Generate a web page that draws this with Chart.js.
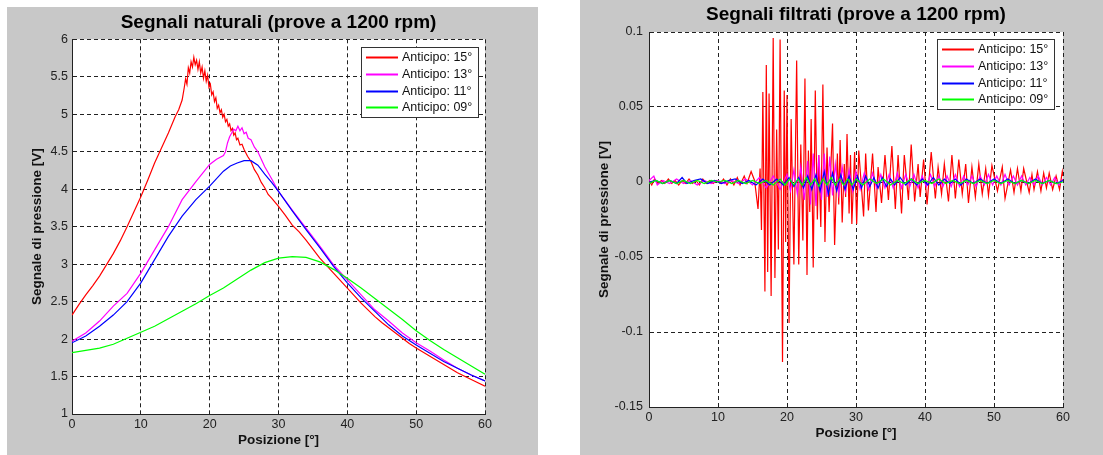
<!DOCTYPE html>
<html>
<head>
<meta charset="utf-8">
<script src="https://cdn.jsdelivr.net/npm/chart.js@4.4.0/dist/chart.umd.min.js"></script>
<style>
  body { margin: 0; background: #fff; width: 1103px; height: 455px; position: relative; overflow: hidden; }
  .pannello { position: absolute; background: #c8c8c8; }
  canvas { display: block; }
</style>
</head>
<body>
<div class="pannello" style="left:7px;top:7px;width:531px;height:448px"><canvas id="graficoNaturali" width="531" height="448"></canvas></div>
<div class="pannello" style="left:580px;top:0;width:523px;height:455px"><canvas id="graficoFiltrati" width="523" height="455"></canvas></div>
<script>
// etichette comuni
const etichette = ['Anticipo: 15°', 'Anticipo: 13°', 'Anticipo: 11°', 'Anticipo: 09°'];
const colori = ['#ff0000', '#ff00ff', '#0000ff', '#00ff00'];
const tickNaturali = ['1', '1.5', '2', '2.5', '3', '3.5', '4', '4.5', '5', '5.5', '6'];
const tickFiltrati = ['-0.15', '-0.1', '-0.05', '0', '0.05', '0.1'];

// --- segnali naturali [V] ---
const posNat15 = [0, 1, 2, 3, 4, 5, 6, 7, 8, 9,
  10, 11, 12, 13, 14, 15, 15.5, 16, 16.3, 16.5,
  16.7, 16.9, 17.1, 17.3, 17.5, 17.7, 17.9, 18.1, 18.3, 18.5,
  18.7, 18.9, 19.1, 19.3, 19.5, 19.7, 19.9, 20.1, 20.3, 20.5,
  20.7, 20.9, 21.1, 21.3, 21.5, 21.7, 21.9, 22.1, 22.3, 22.5,
  22.7, 22.9, 23.1, 23.3, 23.5, 23.7, 23.9, 24.1, 24.4, 24.7,
  25, 25.5, 26, 26.5, 27, 27.5, 28, 28.5, 29, 30,
  31, 32, 33, 34, 35, 36, 37, 38, 39, 40,
  41, 42, 43, 44, 45, 46, 47, 48, 49, 50,
  52, 54, 56, 58, 60];
const valNat15 = [2.32, 2.46, 2.59, 2.71, 2.84, 2.99, 3.14, 3.31, 3.50, 3.70,
  3.90, 4.12, 4.35, 4.55, 4.75, 4.97, 5.06, 5.19, 5.35, 5.47,
  5.40, 5.62, 5.55, 5.70, 5.63, 5.76, 5.66, 5.72, 5.60, 5.70,
  5.55, 5.63, 5.48, 5.58, 5.44, 5.52, 5.36, 5.40, 5.26, 5.30,
  5.17, 5.22, 5.08, 5.12, 5.02, 5.06, 4.96, 5.00, 4.90, 4.93,
  4.84, 4.87, 4.78, 4.81, 4.72, 4.75, 4.66, 4.68, 4.59, 4.60,
  4.53, 4.44, 4.37, 4.26, 4.19, 4.09, 4.02, 3.93, 3.88, 3.77,
  3.65, 3.52, 3.43, 3.32, 3.20, 3.08, 2.98, 2.88, 2.78, 2.68,
  2.58, 2.48, 2.39, 2.30, 2.22, 2.15, 2.08, 2.01, 1.94, 1.88,
  1.77, 1.66, 1.55, 1.46, 1.37];

const posNat13 = [0, 2, 4, 6, 8, 10, 12, 14, 16, 18, 20, 21, 22,
  22.3, 22.6, 22.9, 23.2, 23.5, 23.8, 24.1, 24.4, 24.7, 25, 25.3, 25.6,
  26, 26.5, 27, 27.5, 28, 29, 30,
  32, 34, 36, 38, 40, 42, 44, 46, 48, 50, 52, 54, 56, 58, 60];
const valNat13 = [1.97, 2.08, 2.24, 2.44, 2.61, 2.88, 3.19, 3.50, 3.86, 4.10, 4.33, 4.40, 4.45,
  4.50, 4.62, 4.70, 4.75, 4.80, 4.78, 4.84, 4.78, 4.82, 4.74, 4.76, 4.68,
  4.66, 4.56, 4.50, 4.40, 4.30, 4.14, 3.97,
  3.72, 3.48, 3.24, 2.99, 2.79, 2.59, 2.39, 2.24, 2.08, 1.95, 1.84, 1.72, 1.61, 1.52, 1.44];

const posNat11 = [0, 2, 4, 6, 8, 10, 12, 14, 16, 18, 20, 22,
  23, 24, 25, 26, 27, 28, 29, 30,
  32, 34, 36, 38, 40, 42, 44, 46, 48, 50, 52, 54, 56, 58, 60];
const valNat11 = [1.95, 2.04, 2.17, 2.32, 2.50, 2.75, 3.06, 3.37, 3.64, 3.86, 4.04, 4.24,
  4.31, 4.35, 4.38, 4.38, 4.32, 4.20, 4.09, 3.97,
  3.71, 3.46, 3.22, 2.97, 2.75, 2.55, 2.37, 2.19, 2.04, 1.92, 1.81, 1.70, 1.61, 1.52, 1.44];

const posNat09 = [0, 2, 4, 6, 8, 10, 12, 14, 16, 18, 20, 22, 24, 26, 28, 30,
  32, 34, 36, 38, 40, 42, 44, 46, 48, 50, 52, 54, 56, 58, 60];
const valNat09 = [1.82, 1.85, 1.88, 1.93, 2.01, 2.09, 2.17, 2.27, 2.37, 2.47, 2.58, 2.68, 2.80, 2.92, 3.02, 3.08,
  3.10, 3.09, 3.03, 2.93, 2.81, 2.68, 2.54, 2.40, 2.26, 2.11, 1.98, 1.86, 1.75, 1.64, 1.53];

// --- segnali filtrati [V] ---
const posFil15 = [0, 0.4, 0.8, 1.3, 1.8, 2.3, 2.8, 3.3, 3.8, 4.3,
  4.8, 5.3, 5.8, 6.3, 6.8, 7.3, 7.8, 8.3, 8.8, 9.3,
  9.8, 10.3, 10.8, 11.3, 11.8, 12.3, 12.8, 13.2, 13.8, 14.2,
  14.8, 15.3, 15.8, 16.1, 16.3, 16.5, 16.8, 17.0, 17.2, 17.4,
  17.7, 18.0, 18.25, 18.5, 18.75, 19.0, 19.35, 19.6, 19.8, 20.0,
  20.3, 20.6, 21.0, 21.4, 21.7, 22.0, 22.3, 22.6, 22.9, 23.1,
  23.3, 23.5, 23.8, 24.1, 24.4, 24.6, 24.9, 25.2, 25.5, 25.8,
  26.1, 26.6, 26.9, 27.3, 27.5, 27.7, 28.0, 28.3, 28.5, 28.7,
  29.0, 29.2, 29.4, 29.8, 30.1, 30.4, 31.1, 31.4, 31.8, 32.4,
  32.9, 33.2, 33.7, 34.2, 34.7, 35.2, 35.7, 36.1, 36.6, 37.0,
  37.6, 38.0, 38.5, 39.0, 39.3, 39.8, 40.3, 40.9, 41.5, 41.9,
  42.4, 42.8, 43.4, 43.9, 44.4, 44.9, 45.4, 45.9, 46.3, 46.8,
  47.3, 47.8, 48.3, 48.8, 49.2, 49.7, 50.5, 51.2, 51.6, 52.4,
  52.9, 53.4, 53.9, 54.3, 55.1, 55.5, 55.8, 56.3, 56.8, 57.2,
  57.6, 58.0, 58.5, 59.0, 59.5, 59.9, 60];
const valFil15 = [0.001, -0.002, 0.002, -0.001, 0.001, -0.001, 0.002, -0.001, 0.001, -0.002,
  0.001, -0.001, 0.002, -0.001, 0.001, -0.002, 0.002, -0.001, 0.001, -0.001,
  0.001, -0.001, 0.002, -0.002, 0.002, -0.002, 0.003, -0.002, 0.004, -0.001,
  0.007, 0.001, -0.018, 0.009, -0.032, 0.060, -0.073, 0.078, -0.060, 0.059,
  -0.076, 0.096, -0.064, 0.035, -0.045, 0.095, -0.120, 0.061, -0.040, 0.058,
  -0.094, 0.042, -0.055, 0.081, -0.055, 0.025, -0.039, 0.069, -0.062, 0.021,
  -0.020, 0.042, -0.057, 0.061, -0.025, 0.018, -0.030, 0.065, -0.040, 0.023,
  -0.020, 0.039, -0.042, 0.019, -0.015, 0.028, -0.027, 0.012, -0.010, 0.032,
  -0.021, 0.018, -0.028, 0.020, -0.028, 0.021, -0.023, 0.019, -0.019, 0.019,
  -0.020, 0.010, -0.014, 0.018, -0.012, 0.024, -0.018, 0.018, -0.021, 0.018,
  -0.012, 0.025, -0.013, 0.012, -0.010, 0.015, -0.015, 0.020, -0.011, 0.010,
  -0.008, 0.012, -0.013, 0.018, -0.011, 0.015, -0.008, 0.012, -0.014, 0.010,
  -0.010, 0.012, -0.008, 0.009, -0.009, 0.011, -0.006, 0.010, -0.011, 0.008,
  -0.007, 0.009, -0.006, 0.009, -0.007, 0.005, -0.005, 0.007, -0.006, 0.006,
  -0.004, 0.006, -0.005, 0.004, -0.005, 0.007, 0.004];

const posFil13 = [0, 0.7, 1.2, 2, 3, 4, 5, 6, 7, 8, 9, 10, 11, 12, 13, 14, 15, 16, 17, 18, 19, 20,
  20.5, 21, 21.5, 22, 22.5, 23,
  23.4, 23.8, 24.2, 24.6, 25, 25.4, 25.8, 26.2, 26.6, 27,
  27.5, 28, 28.5, 29, 29.5, 30,
  30.6, 31.2, 31.8, 32.4, 33, 33.6, 34.2, 34.8, 35.4, 36,
  36.6, 37.2, 37.8, 38.4, 39, 39.6, 40.2, 40.8, 41.4, 42,
  42.6, 43.2, 43.8, 44.4, 45, 45.6, 46.2, 46.8, 47.4, 48,
  48.6, 49.2, 49.8, 50.4, 51, 51.6, 52.2, 52.8, 53.4, 54,
  54.6, 55.2, 55.8, 56.4, 57, 57.6, 58.2, 58.8, 59.4, 60];
const valFil13 = [0.001, 0.004, -0.002, 0.001, -0.001, 0.002, -0.001, 0.001, -0.002, 0.001, -0.001, 0.001, -0.001, 0.001, -0.001, 0.002, -0.002, 0.003, -0.004, 0.004, -0.005, 0.005,
  -0.006, 0.008, -0.008, 0.010, -0.012, 0.014,
  -0.015, 0.019, -0.016, 0.018, -0.012, 0.019, -0.010, 0.017, -0.009, 0.012,
  -0.008, 0.010, -0.006, 0.008, -0.006, 0.007,
  -0.005, 0.006, -0.005, 0.006, -0.004, 0.005, -0.004, 0.005, -0.004, 0.006,
  -0.004, 0.005, -0.003, 0.005, -0.004, 0.004, -0.003, 0.005, -0.003, 0.004,
  -0.003, 0.004, -0.003, 0.005, -0.003, 0.004, -0.002, 0.004, -0.003, 0.004,
  -0.002, 0.005, -0.002, 0.004, -0.002, 0.005, -0.002, 0.004, -0.002, 0.004,
  -0.002, 0.003, -0.002, 0.004, -0.002, 0.003, -0.002, 0.003, -0.002, 0.002];

const posFil11 = [0, 1, 2, 3, 4, 4.8, 5.5,
  6.5, 7.5, 8.5, 9.5, 10.5, 11.5, 12.5, 13.5, 14.5, 15.5, 16.5, 17.5, 18.5, 19.5,
  20.3, 21, 21.7, 22.4,
  23, 23.6, 24.2, 24.8, 25.4, 26, 26.6, 27.2, 27.8, 28.4, 29, 29.6, 30.2, 30.8, 31.4, 32, 32.6, 33.2, 33.8, 34.4, 35, 35.6,
  36.4, 37.2, 38, 38.8, 39.6, 40.4, 41.2, 42, 42.8, 43.6, 44.4, 45.2,
  46, 47, 48, 49, 50, 51, 52, 53, 54, 55, 56, 57, 58, 59, 60];
const valFil11 = [0, 0.001, -0.001, 0.001, -0.001, 0.003, -0.001,
  0.001, 0.002, -0.001, 0.001, -0.001, 0.001, 0.002, -0.001, 0.001, -0.002, 0.002, -0.002, 0.002, -0.002,
  0.003, -0.003, 0.003, -0.004,
  0.004, -0.005, 0.005, -0.006, 0.007, -0.008, 0.006, -0.006, 0.005, -0.005, 0.004, -0.005, 0.004, -0.004, 0.004, -0.003, 0.003, -0.004, 0.003, -0.003, 0.002, -0.002,
  0.003, -0.002, 0.002, -0.002, 0.002, -0.002, 0.003, -0.002, 0.002, -0.001, 0.002, -0.002,
  0.002, -0.001, 0.002, -0.001, 0.002, -0.001, 0.002, -0.001, 0.001, -0.001, 0.002, -0.001, 0.001, -0.001, 0.001];

const posFil09 = [0, 1, 2, 3, 4, 5, 6, 7, 8, 9, 10, 11, 12, 13, 14, 15, 16, 17, 18, 19,
  19.7, 20.4,
  21, 21.6, 22.2, 22.8, 23.4, 24, 24.6, 25.2, 25.8, 26.4, 27, 27.6, 28.2, 28.8, 29.4, 30,
  31, 32, 33, 34, 35, 36, 37, 38, 39, 40, 41, 42, 43, 44, 45,
  46, 47, 48, 49, 50, 51, 52, 53, 54, 55, 56, 57, 58, 59, 60];
const valFil09 = [-0.001, 0.001, -0.001, 0.001, -0.001, 0.001, -0.001, 0.001, -0.001, 0.001, 0, 0.001, -0.001, 0.001, -0.001, 0.001, -0.001, 0.001, -0.002, 0.002,
  -0.002, 0.002,
  -0.002, 0.002, -0.002, 0.003, -0.002, 0.002, -0.003, 0.002, -0.002, 0.003, -0.002, 0.002, -0.002, 0.002, -0.002, 0.002,
  -0.002, 0.002, -0.001, 0.002, -0.002, 0.001, -0.001, 0.002, -0.001, 0.001, -0.001, 0.002, -0.001, 0.001, -0.001,
  0.001, -0.001, 0.001, -0.001, 0.001, -0.001, 0.001, -0.001, 0.001, -0.001, 0.001, -0.001, 0.001, -0.001, 0];

// unisce posizioni e valori in punti {x, y}
function punti(xs, ys) {
  const n = Math.min(xs.length, ys.length);
  const out = [];
  for (let i = 0; i < n; i++) out.push({ x: xs[i], y: ys[i] });
  return out;
}

function serie(listaPos, listaVal) {
  return listaPos.map((p, i) => ({
    label: etichette[i],
    data: punti(p, listaVal[i]),
    borderColor: colori[i],
    backgroundColor: colori[i],
    borderWidth: 1.2,
    pointRadius: 0,
    tension: 0,
    order: 3 - i // il verde sopra, il rosso sotto (come in MATLAB)
  }));
}

const FONT = '"Liberation Sans", Arial, sans-serif';
Chart.defaults.font.family = FONT;
Chart.defaults.color = '#1a1a1a';

// sfondo bianco solo dentro l'area del grafico
const sfondoArea = {
  id: 'sfondoArea',
  beforeDraw(chart) {
    const { ctx, chartArea: a } = chart;
    ctx.save();
    ctx.fillStyle = '#ffffff';
    ctx.fillRect(a.left, a.top, a.right - a.left, a.bottom - a.top);
    ctx.restore();
  }
};

// legenda con bordo dentro l'area, in alto a destra
function legendaInterna(dx, dy, w, h) {
  return {
    id: 'legendaInterna',
    afterDraw(chart) {
      const { ctx, chartArea: a } = chart;
      const x0 = Math.round(a.right - dx - w), y0 = Math.round(a.top + dy);
      ctx.save();
      ctx.fillStyle = '#ffffff';
      ctx.fillRect(x0, y0, w, h);
      ctx.strokeStyle = '#333';
      ctx.lineWidth = 1;
      ctx.strokeRect(x0 + 0.5, y0 + 0.5, w, h);
      ctx.font = '12.5px ' + FONT;
      ctx.textBaseline = 'middle';
      chart.data.datasets.forEach((ds, i) => {
        const y = Math.round(y0 + 10 + i * 16.8) + 0.5;
        ctx.strokeStyle = ds.borderColor;
        ctx.lineWidth = 2;
        ctx.beginPath();
        ctx.moveTo(x0 + 5, y);
        ctx.lineTo(x0 + 37, y);
        ctx.stroke();
        ctx.fillStyle = '#111';
        ctx.fillText(ds.label, x0 + 41, y);
      });
      ctx.restore();
    }
  };
}

function opzioni(c) {
  return {
    responsive: false,
    animation: false,
    events: [],
    layout: { padding: { left: 0, right: c.destra, top: 0, bottom: 0 } },
    plugins: {
      legend: { display: false },
      tooltip: { enabled: false },
      title: {
        display: true,
        text: c.titolo,
        fullSize: false,
        color: '#000',
        font: { size: 19, weight: 'bold', lineHeight: 1.2 },
        padding: { top: c.titoloSopra, bottom: c.titoloSotto }
      }
    },
    scales: {
      x: {
        type: 'linear',
        min: 0, max: 60,
        afterFit: s => { s.height = c.altezzaX; },
        ticks: { stepSize: 10, padding: 3, color: '#222', font: { size: 12.5 }, maxRotation: 0 },
        grid: { color: '#222', lineWidth: 1, drawTicks: false },
        border: { display: true, color: '#222', width: 1, dash: [4, 3] },
        title: { display: true, text: 'Posizione [°]', color: '#111', font: { size: 13.5, weight: 'bold' }, padding: { top: 0, bottom: c.titoloXSotto } }
      },
      y: {
        min: c.ymin, max: c.ymax,
        afterFit: s => { s.width = c.larghezzaY; },
        afterBuildTicks: s => { s.ticks = c.valoriTick.map(v => ({ value: v })); },
        ticks: { padding: c.padTickY, color: '#222', font: { size: 12.5 }, callback: (v, i) => c.tick[i] },
        grid: { color: '#222', lineWidth: 1, drawTicks: false },
        border: { display: true, color: '#222', width: 1, dash: [4, 3] },
        title: { display: true, text: 'Segnale di pressione [V]', color: '#111', font: { size: 13.5, weight: 'bold' }, padding: { top: c.titoloYSopra, bottom: 0 } }
      }
    }
  };
}

new Chart(document.getElementById('graficoNaturali'), {
  type: 'line',
  data: { datasets: serie([posNat15, posNat13, posNat11, posNat09], [valNat15, valNat13, valNat11, valNat09]) },
  options: opzioni({
    titolo: 'Segnali naturali (prove a 1200 rpm)',
    destra: 53, titoloSopra: 4.3, titoloSotto: 5.2,
    altezzaX: 41, titoloXSotto: 7,
    larghezzaY: 65, titoloYSopra: 22, padTickY: 4,
    ymin: 1, ymax: 6,
    valoriTick: tickNaturali.map(Number), tick: tickNaturali
  }),
  plugins: [sfondoArea, legendaInterna(7, 8, 117, 70)]
});

new Chart(document.getElementById('graficoFiltrati'), {
  type: 'line',
  data: { datasets: serie([posFil15, posFil13, posFil11, posFil09], [valFil15, valFil13, valFil11, valFil09]) },
  options: opzioni({
    titolo: 'Segnali filtrati (prove a 1200 rpm)',
    destra: 40, titoloSopra: 3.6, titoloSotto: 5.6,
    altezzaX: 48, titoloXSotto: 14,
    larghezzaY: 69, titoloYSopra: 16, padTickY: 6,
    ymin: -0.15, ymax: 0.1,
    valoriTick: tickFiltrati.map(Number), tick: tickFiltrati
  }),
  plugins: [sfondoArea, legendaInterna(9, 7, 117, 70)]
});
</script>
</body>
</html>
